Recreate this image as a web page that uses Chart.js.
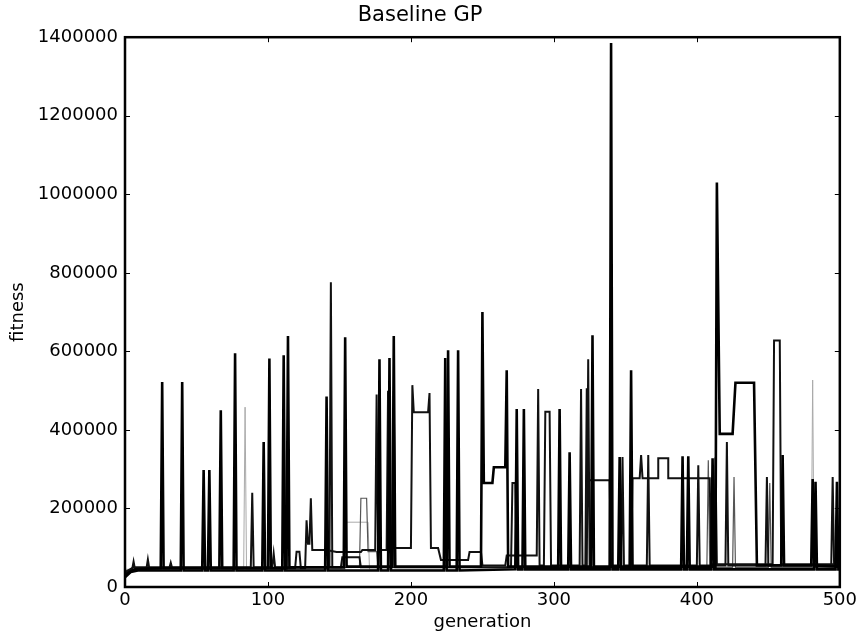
<!DOCTYPE html>
<html>
<head>
<meta charset="utf-8">
<script src="https://cdn.jsdelivr.net/npm/chart.js@4.4.1/dist/chart.umd.min.js"></script>
<style>
  html, body { margin: 0; padding: 0; background: #fff; }
  canvas { display: block; }
</style>
</head>
<body>
<canvas id="gp" width="860" height="635"></canvas>
<script>
// fitness per generation, one list of [generation, fitness] per run
const runA = [[0,30000],[4,40000],[8,46000],[25,48000],[26,522000],[27,48000],[66,48000],[67,450000],[68,48000],
  [100,48000],[101,582000],[102,48000],[113,48000],[114,639000],[115,50000],[153,50000],[154,636000],[155,52000],
  [187,52000],[188,639000],[189,52000],[225,52000],[226,603000],[227,52000],[249,52000],[250,700000],[251,265000],
  [257,265000],[258,305000],[266,305000],[267,552000],[268,52000],[303,52000],[304,453000],[305,52000],
  [326,52000],[327,641000],[328,52000],[353,52000],[354,552000],[355,52000],[413,52000],[414,1030000],
  [416,390000],[425,390000],[427,520000],[440,520000],[442,55000],[459,55000],[460,336000],[461,55000],
  [480,55000],[481,275000],[482,55000],[500,52000]];

const runB = [[0,25000],[4,38000],[9,42000],[39,42000],[40,522000],[41,42000],[54,42000],[55,298000],[56,42000],
  [58,42000],[59,298000],[60,42000],[76,42000],[77,595000],[78,42000],[96,42000],[97,369000],[98,42000],
  [110,42000],[111,590000],[112,42000],[140,42000],[141,485000],[142,42000],[177,42000],[178,580000],[179,42000],
  [184,42000],[185,583000],[186,42000],[223,42000],[224,583000],[225,42000],[232,42000],[233,603000],[234,42000],
  [273,45000],[274,453000],[275,45000],[278,45000],[279,453000],[280,45000],[310,45000],[311,343000],[312,45000],
  [339,45000],[340,1385000],[341,45000],[345,45000],[346,331000],[347,45000],[389,45000],[390,333000],[391,45000],
  [393,45000],[394,333000],[395,45000],[410,45000],[411,328000],[412,45000],[482,45000],[483,268000],[484,45000],
  [497,45000],[498,268000],[499,45000],[500,45000]];

const runC = [[0,35000],[5,45000],[6,65000],[7,45000],[15,47000],[16,70000],[17,47000],[31,48000],[32,62000],[33,48000],
  [119,48000],[120,90000],[122,90000],[123,48000],[126,48000],[127,170000],[128,110000],[129,110000],[130,226000],
  [131,94000],[141,94000],[148,89000],[165,89000],[166,94000],[175,94000],[176,490000],[177,94000],[183,94000],
  [184,500000],[185,99000],[200,99000],[201,514000],[202,445000],[212,445000],[213,494000],[214,99000],[219,99000],
  [221,69000],[240,69000],[241,89000],[249,89000],[250,55000],[266,55000],[267,80000],[288,80000],[289,504000],
  [290,55000],[293,55000],[294,446000],[297,446000],[298,55000],[318,55000],[319,504000],[320,55000],[322,55000],
  [323,506000],[324,272000],[339,272000],[340,55000],[347,55000],[348,331000],[349,55000],[365,55000],[366,336000],
  [367,55000],[400,55000],[401,310000],[402,55000],[420,55000],[421,369000],[422,55000],[448,55000],[449,280000],
  [450,55000],[494,55000],[495,280000],[496,55000],[500,55000]];

const runD = [[0,38000],[6,50000],[88,50000],[89,240000],[90,50000],[103,50000],[104,85000],[105,50000],
  [143,50000],[144,776000],[145,50000],[151,50000],[152,76000],[164,76000],[165,50000],[187,50000],[188,500000],
  [189,50000],[270,50000],[271,265000],[273,265000],[274,50000],[323,50000],[324,580000],[325,50000],
  [354,50000],[355,277000],[360,277000],[361,336000],[362,277000],[373,277000],[373,328000],[380,328000],
  [380,277000],[409,277000],[410,58000],[412,58000],[413,330000],[414,58000],[453,58000],[454,628000],
  [458,628000],[459,58000],[500,58000]];

const runE = [[0,40000],[10,48000],[164,50000],[165,226000],[169,226000],[170,90000],[176,90000],[177,50000],
  [407,50000],[408,323000],[409,50000],[425,50000],[426,280000],[427,50000],[450,50000],[451,265000],
  [452,50000],[500,50000]];

const runF = [[0,45000],[83,45000],[84,458000],[85,45000],[154,45000],[155,165000],[170,165000],[171,45000],
  [480,45000],[481,527000],[482,45000],[500,45000]];

const runs = [
  { pts: runA, color: '#000', width: 2.6 },
  { pts: runB, color: '#000', width: 2.6 },
  { pts: runC, color: '#111', width: 2 },
  { pts: runD, color: '#111', width: 2 },
  { pts: runE, color: '#555', width: 1.2 },
  { pts: runF, color: '#aaa', width: 1 }
];

const xTicks = [0, 100, 200, 300, 400, 500];
const yTicks = [0, 200000, 400000, 600000, 800000, 1000000, 1200000, 1400000];

Chart.defaults.font.family = "'DejaVu Sans', sans-serif";
Chart.defaults.color = '#000';

// matplotlib-like box with inward ticks on all sides
const frame = {
  id: 'frame',
  afterDatasetsDraw(chart) {
    const { ctx, chartArea: a, scales: { x, y } } = chart;
    ctx.save();
    ctx.strokeStyle = '#000';
    ctx.lineWidth = 1;
    ctx.beginPath();
    x.ticks.forEach(t => {
      const px = Math.round(x.getPixelForValue(t.value)) + 0.5;
      ctx.moveTo(px, a.bottom); ctx.lineTo(px, a.bottom - 5);
      ctx.moveTo(px, a.top); ctx.lineTo(px, a.top + 5);
    });
    y.ticks.forEach(t => {
      const py = Math.round(y.getPixelForValue(t.value)) + 0.5;
      ctx.moveTo(a.left, py); ctx.lineTo(a.left + 5, py);
      ctx.moveTo(a.right, py); ctx.lineTo(a.right - 5, py);
    });
    ctx.stroke();
    ctx.lineWidth = 2.5;
    ctx.strokeRect(a.left, a.top, a.right - a.left, a.bottom - a.top);
    ctx.restore();
  }
};

new Chart(document.getElementById('gp'), {
  type: 'line',
  data: {
    datasets: runs.map(r => ({
      data: r.pts.map(p => ({ x: p[0], y: p[1] })),
      borderColor: r.color,
      borderWidth: r.width,
      pointRadius: 0,
      tension: 0,
      fill: false
    }))
  },
  options: {
    responsive: false,
    animation: false,
    devicePixelRatio: 1,
    layout: { padding: { left: 0, right: 20, top: 0, bottom: 0 } },
    plugins: {
      legend: { display: false },
      tooltip: { enabled: false },
      title: {
        display: true,
        text: 'Baseline GP',
        font: { size: 21, weight: 'normal' },
        padding: { top: 3, bottom: 9 }
      }
    },
    scales: {
      x: {
        type: 'linear',
        min: 0, max: 500,
        afterBuildTicks: s => { s.ticks = xTicks.map(v => ({ value: v })); },
        afterFit: s => { s.height = 48; },
        grid: { display: false, drawTicks: false },
        border: { display: false },
        ticks: { font: { size: 18 }, padding: 3, maxRotation: 0 },
        title: { display: true, text: 'generation', font: { size: 18 }, padding: { top: 0, bottom: 2 } }
      },
      y: {
        min: 0, max: 1400000,
        afterBuildTicks: s => { s.ticks = yTicks.map(v => ({ value: v })); },
        afterFit: s => { s.width = 125; },
        grid: { display: false, drawTicks: false },
        border: { display: false },
        ticks: { font: { size: 18 }, padding: 7, callback: v => String(v) },
        title: { display: true, text: 'fitness', font: { size: 18 }, padding: { top: 8, bottom: 0 } }
      }
    }
  },
  plugins: [frame]
});
</script>
</body>
</html>
